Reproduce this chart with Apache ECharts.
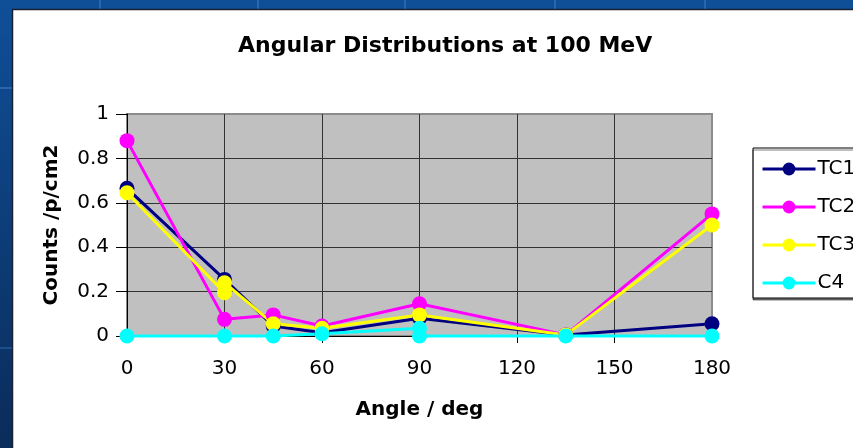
<!DOCTYPE html>
<html><head><meta charset="utf-8">
<script src="https://cdn.jsdelivr.net/npm/echarts@6/dist/echarts.min.js"></script>
<style>html,body{margin:0;padding:0;background:#0c4588;overflow:hidden}#c{width:853px;height:448px}</style>
</head><body><div id="c"></div>
<script>
// ---- data ----
const chartTitle = 'Angular Distributions at 100 MeV';
const xAxisName = 'Angle / deg';
const yAxisName = 'Counts /p/cm2';
const seriesNames = ['TC1', 'TC2', 'TC3', 'C4'];
const xTicks = [0, 30, 60, 90, 120, 150, 180];
const yTicks = [0, 0.2, 0.4, 0.6, 0.8, 1];
const tc1 = [[0, 0.665], [30, 0.255], [45, 0.045], [60, 0.015], [90, 0.08], [135, 0.005], [180, 0.055]];
const tc2 = [[0, 0.88], [30, 0.075], [45, 0.095], [60, 0.045], [90, 0.145], [135, 0.005], [180, 0.55]];
const tc3 = [[0, 0.645], [30, 0.195], [30, 0.24], [45, 0.055], [60, 0.035], [90, 0.095], [135, 0.005], [180, 0.5]];
const c4 = [[0, 0], [30, 0], [45, 0], [60, 0.01], [90, 0.035], [90, 0], [135, 0], [180, 0]];
const seriesData = [tc1, tc2, tc3, c4];

// ---- styles ----
const colors = ['#000080', '#FF00FF', '#FFFF00', '#00FFFF'];
const FONT = 'DejaVu Sans';
const W = 853, H = 448;

const chart = echarts.init(document.getElementById('c'), null, {renderer: 'canvas'});

const bgGraphics = [
  {type: 'rect', z: -10, silent: true, shape: {x: 0, y: 0, width: W, height: H},
   style: {fill: new echarts.graphic.LinearGradient(0, 0, 0, 1, [
     {offset: 0, color: '#0f4f98'}, {offset: 1, color: '#0a2c5a'}])}},
  {type: 'line', z: -9, silent: true, shape: {x1: 100, y1: 0, x2: 100, y2: 10}, style: {stroke: '#2a66ae', lineWidth: 2}},
  {type: 'line', z: -9, silent: true, shape: {x1: 258, y1: 0, x2: 258, y2: 10}, style: {stroke: '#2a66ae', lineWidth: 2}},
  {type: 'line', z: -9, silent: true, shape: {x1: 405, y1: 0, x2: 405, y2: 10}, style: {stroke: '#2a66ae', lineWidth: 2}},
  {type: 'line', z: -9, silent: true, shape: {x1: 555, y1: 0, x2: 555, y2: 10}, style: {stroke: '#2a66ae', lineWidth: 2}},
  {type: 'line', z: -9, silent: true, shape: {x1: 705, y1: 0, x2: 705, y2: 10}, style: {stroke: '#2a66ae', lineWidth: 2}},
  {type: 'line', z: -9, silent: true, shape: {x1: 0, y1: 88, x2: 12, y2: 88}, style: {stroke: '#2a66ae', lineWidth: 2}},
  {type: 'line', z: -9, silent: true, shape: {x1: 0, y1: 348, x2: 12, y2: 348}, style: {stroke: '#1d4f8a', lineWidth: 2}},
  {type: 'rect', z: -8, silent: true, shape: {x: 12.5, y: 9.5, width: W, height: H},
   style: {fill: '#ffffff', stroke: '#1b2030', lineWidth: 1.5}}
];

const series = seriesNames.map((name, i) => ({
  name: name,
  type: 'line',
  data: seriesData[i],
  symbol: 'circle',
  symbolSize: 15,
  showSymbol: true,
  clip: false,
  color: colors[i],
  lineStyle: {color: colors[i], width: 3},
  itemStyle: {color: colors[i], borderWidth: 0},
  emphasis: {disabled: true},
  animation: false
}));

const option = {
  animation: false,
  backgroundColor: 'transparent',
  graphic: bgGraphics,
  title: {
    text: chartTitle,
    left: 238,
    top: 35,
    padding: 0,
    textStyle: {fontFamily: FONT, fontWeight: 'bold', fontSize: 22, color: '#000'}
  },
  legend: {
    data: seriesNames,
    orient: 'vertical',
    left: 753,
    top: 148,
    padding: [11, 8, 5, 8],
    itemWidth: 53,
    itemHeight: 16,
    itemGap: 18,
    borderColor: '#000',
    borderWidth: 1,
    backgroundColor: '#fff',
    shadowColor: 'rgba(0,0,0,0.5)',
    shadowOffsetY: 2,
    lineStyle: {width: 3},
    textStyle: {fontFamily: FONT, fontSize: 20, color: '#000', padding: [0, 0, 0, -3]},
    selectedMode: false
  },
  grid: {
    left: 127, top: 114, width: 585, height: 222,
    show: true, backgroundColor: '#C0C0C0', borderColor: '#8c8c8c', borderWidth: 2
  },
  xAxis: {
    type: 'value', min: xTicks[0], max: xTicks[xTicks.length - 1], interval: 30,
    name: xAxisName, nameLocation: 'middle', nameGap: 64,
    nameTextStyle: {fontFamily: FONT, fontWeight: 'bold', fontSize: 20, color: '#000'},
    axisLine: {show: true, onZero: false, lineStyle: {color: '#000', width: 1}},
    axisTick: {show: true, length: 7, lineStyle: {color: '#000', width: 1}},
    axisLabel: {fontFamily: FONT, fontSize: 20, color: '#000', margin: 23},
    splitLine: {show: true, lineStyle: {color: ['#333', '#333', '#333', '#333', '#333', '#333', '#8c8c8c'], width: 1}}
  },
  yAxis: {
    type: 'value', min: yTicks[0], max: yTicks[yTicks.length - 1], interval: 0.2,
    name: yAxisName, nameLocation: 'middle', nameGap: 65, nameRotate: 90,
    nameTextStyle: {fontFamily: FONT, fontWeight: 'bold', fontSize: 20, color: '#000'},
    axisLine: {show: true, lineStyle: {color: '#000', width: 1}},
    axisTick: {show: true, length: 11, lineStyle: {color: '#000', width: 1}},
    axisLabel: {fontFamily: FONT, fontSize: 20, color: '#000', margin: 18},
    splitLine: {show: true, lineStyle: {color: ['#333', '#333', '#333', '#333', '#333', '#8c8c8c'], width: 1}}
  },
  series: series
};
chart.setOption(option);
</script></body></html>
